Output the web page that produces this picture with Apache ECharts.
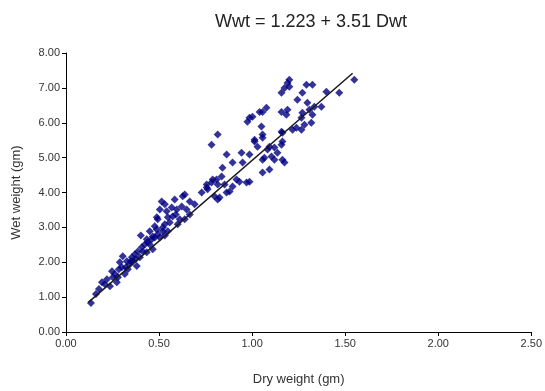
<!DOCTYPE html>
<html><head><meta charset="utf-8">
<script src="https://cdn.jsdelivr.net/npm/echarts@6/dist/echarts.min.js"></script>
<style>html,body{margin:0;padding:0;background:#fff}#c{width:545px;height:391px}</style>
</head><body><div id="c"></div>
<script>
var titleText = "Wwt = 1.223 + 3.51 Dwt";
var xAxisName = "Dry weight (gm)";
var yAxisName = "Wet weight (gm)";
var dryWeight = [0.134,0.161,0.177,0.193,0.209,0.220,0.236,0.247,0.252,0.263,0.273,0.279,0.284,0.289,0.300,0.305,0.316,0.322,0.327,0.332,0.343,0.348,0.354,0.359,0.370,0.375,0.380,0.386,0.397,0.402,0.407,0.413,0.423,0.434,0.434,0.439,0.450,0.450,0.461,0.466,0.466,0.477,0.477,0.488,0.488,0.493,0.493,0.504,0.504,0.514,0.520,0.520,0.531,0.531,0.531,0.541,0.547,0.547,0.557,0.568,0.573,0.584,0.590,0.595,0.600,0.611,0.622,0.627,0.638,0.638,0.648,0.665,0.665,0.691,0.729,0.756,0.756,0.761,0.782,0.782,0.788,0.798,0.809,0.815,0.815,0.815,0.825,0.836,0.841,0.852,0.863,0.863,0.879,0.895,0.895,0.916,0.932,0.943,0.949,0.970,0.975,0.986,0.986,0.986,1.002,1.013,1.013,1.029,1.040,1.050,1.056,1.056,1.056,1.056,1.056,1.066,1.077,1.083,1.093,1.093,1.104,1.120,1.120,1.136,1.158,1.158,1.158,1.158,1.163,1.163,1.163,1.174,1.174,1.184,1.190,1.190,1.200,1.200,1.217,1.238,1.243,1.265,1.265,1.270,1.270,1.281,1.292,1.297,1.308,1.318,1.324,1.324,1.334,1.372,1.399,1.468,1.549];
var wetWeight = [0.83,1.09,1.23,1.43,1.37,1.51,1.31,1.74,1.57,1.66,1.43,1.57,1.80,2.00,1.86,2.17,1.66,1.86,2.03,1.80,1.94,2.03,2.14,2.03,2.23,2.09,1.89,2.31,2.14,2.77,2.43,2.31,2.51,2.29,2.66,2.57,2.51,2.89,2.66,2.37,2.74,2.71,3.03,2.94,3.29,2.80,3.23,3.51,2.71,3.74,2.89,3.00,3.66,3.09,2.77,3.46,3.29,2.89,3.14,3.57,3.31,3.80,3.37,3.51,3.09,3.23,3.60,3.89,3.94,3.23,3.51,3.74,3.37,3.66,4.00,4.14,4.23,4.09,4.29,5.37,4.37,3.89,4.37,4.23,3.80,5.66,3.86,4.46,4.71,4.23,4.00,5.09,4.03,4.17,4.86,4.37,4.31,5.14,4.86,4.29,6.03,4.31,5.09,6.14,6.17,5.46,5.51,5.31,6.31,5.89,5.66,4.57,4.94,5.57,6.31,5.00,6.43,5.23,4.66,5.31,5.03,5.29,4.94,5.14,5.37,6.86,6.31,5.74,5.71,4.94,5.46,4.86,7.00,6.23,7.14,6.37,7.23,7.03,5.80,5.86,6.66,5.80,6.14,6.86,6.29,5.94,7.09,6.57,6.37,6.00,7.09,6.23,6.46,6.46,6.89,6.86,7.23];
var fitX = [0.12, 1.54];
var fitY = [0.85, 7.42];

var pts = dryWeight.map(function(x,i){return [x, wetWeight[i]];});
var fit = fitX.map(function(x,i){return [x, fitY[i]];});

var chart = echarts.init(document.getElementById('c'), null, {renderer:'canvas'});
var labelFont = {fontFamily:'Liberation Sans, Arial, sans-serif', fontSize:11, color:'#333'};
chart.setOption({
  animation:false,
  backgroundColor:'#fff',
  title:{text:titleText, left:306, top:8, textAlign:'center',
    textStyle:{fontFamily:'Liberation Sans, Arial, sans-serif', fontSize:18, fontWeight:'normal', color:'#222'}},
  grid:{left:66, right:13, top:53, bottom:58, containLabel:false},
  xAxis:{type:'value', min:0, max:2.5, interval:0.5,
    name:xAxisName, nameLocation:'middle', nameGap:41,
    nameTextStyle:{fontFamily:'Liberation Sans, Arial, sans-serif', fontSize:13, color:'#333'},
    axisLine:{onZero:false, lineStyle:{color:'#000', width:1}},
    axisTick:{show:true, length:4, lineStyle:{color:'#000'}},
    axisLabel:Object.assign({margin:6, formatter:function(v){return v.toFixed(2);}}, labelFont),
    splitLine:{show:false}},
  yAxis:{type:'value', min:0, max:8, interval:1,
    name:yAxisName, nameLocation:'middle', nameGap:43, nameRotate:90,
    nameTextStyle:{fontFamily:'Liberation Sans, Arial, sans-serif', fontSize:13, color:'#333'},
    axisLine:{show:true, onZero:false, lineStyle:{color:'#000', width:1}},
    axisTick:{show:true, length:4, lineStyle:{color:'#000'}},
    axisLabel:Object.assign({margin:6, formatter:function(v){return v.toFixed(2);}}, labelFont),
    splitLine:{show:false}},
  series:[
    {type:'scatter', data:pts, symbol:'diamond', symbolSize:8,
     itemStyle:{color:'#000080'}, z:2},
    {type:'line', data:fit, symbol:'none', lineStyle:{color:'#1a1a1a', width:1.5}, z:3}
  ]
});
</script></body></html>
